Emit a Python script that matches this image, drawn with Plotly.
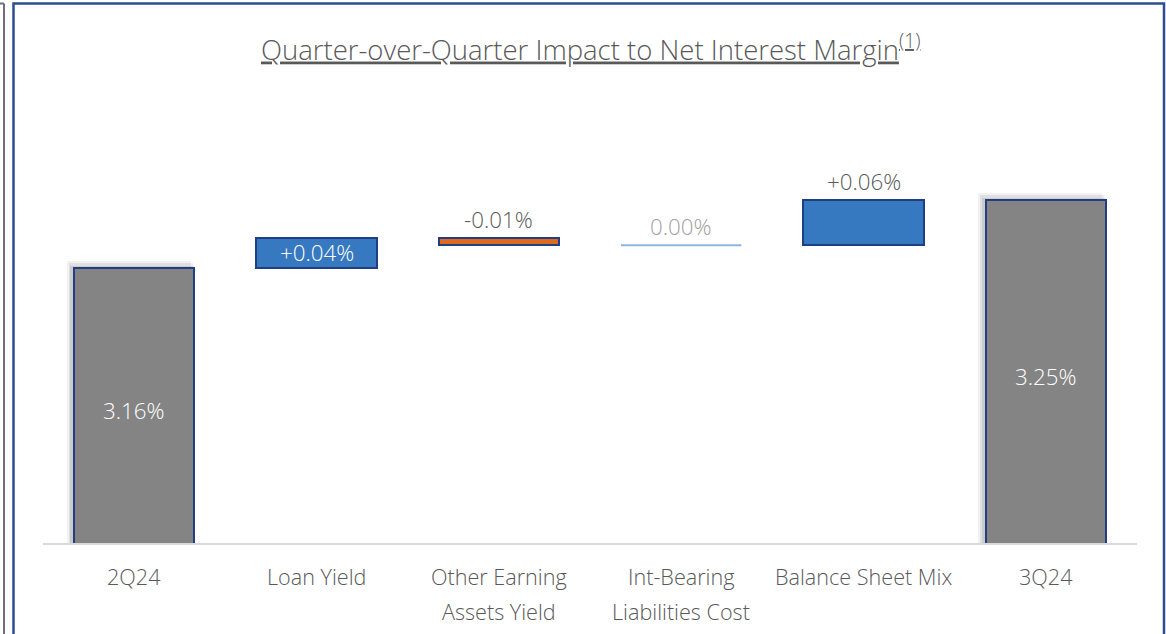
import plotly.graph_objects as go

# ---- data ----
categories = ["2Q24", "Loan Yield", "Other Earning\nAssets Yield",
              "Int-Bearing\nLiabilities Cost", "Balance Sheet Mix", "3Q24"]
start_value = 3.16
changes = [0.04, -0.01, 0.00, 0.06]
end_value = 3.25
value_labels = ["3.16%", "+0.04%", "-0.01%", "0.00%", "+0.06%", "3.25%"]
title_text = "Quarter-over-Quarter Impact to Net Interest Margin"

# ---- styling ----
FONT = "Open Sans"
TXT = "#595959"
NAVY = "#203E84"
GRAY = "#848484"
BLUE = "#3679C0"
ORANGE = "#DC6A1F"
ZERO_LINE = "#8DB4E2"
BAR_W = 0.66
Y_MIN, Y_MAX = 2.796, 3.382
CAT_SIZE = 21.6
VAL_SIZE = 22.3
WEIGHT = 300

n = len(categories)
xs = list(range(n))

# waterfall geometry from data
bases, heights, kinds = [0.0], [start_value], ["total"]
level = start_value
for c in changes:
    bases.append(level)
    heights.append(c)
    kinds.append("up" if c > 0 else ("down" if c < 0 else "zero"))
    level += c
bases.append(0.0)
heights.append(end_value)
kinds.append("total")

fig = go.Figure()

# soft shadow behind total bars
tot_idx = [i for i, k in enumerate(kinds) if k == "total"]
for dx, extra, alpha in [(-0.03, 0.009, 0.05), (-0.02, 0.006, 0.07), (-0.01, 0.003, 0.09)]:
    fig.add_trace(go.Bar(
        x=[xs[i] + dx for i in tot_idx],
        y=[heights[i] + extra for i in tot_idx],
        base=[bases[i] for i in tot_idx],
        width=BAR_W + 0.02,
        marker=dict(color=f"rgba(0,0,0,{alpha})", line=dict(width=0)),
        hoverinfo="skip", showlegend=False))

colors = {"total": GRAY, "up": BLUE, "down": ORANGE}
bar_idx = [i for i, k in enumerate(kinds) if k != "zero"]
fig.add_trace(go.Bar(
    x=[xs[i] for i in bar_idx],
    y=[heights[i] for i in bar_idx],
    base=[bases[i] for i in bar_idx],
    width=BAR_W,
    marker=dict(color=[colors[kinds[i]] for i in bar_idx],
                line=dict(color=NAVY, width=2)),
    showlegend=False, hoverinfo="skip"))

# zero-change bars drawn as a thin line
for i, k in enumerate(kinds):
    if k == "zero":
        fig.add_trace(go.Scatter(
            x=[xs[i] - BAR_W / 2, xs[i] + BAR_W / 2],
            y=[bases[i], bases[i]], mode="lines",
            line=dict(color=ZERO_LINE, width=2),
            showlegend=False, hoverinfo="skip"))

# value labels
for i, k in enumerate(kinds):
    top = max(bases[i], bases[i] + heights[i])
    bot = min(bases[i], bases[i] + heights[i])
    if k == "total":
        y = (max(bot, Y_MIN) + top) / 2
        fig.add_annotation(x=xs[i], y=y, text=value_labels[i], showarrow=False,
                           yshift=-5, font=dict(family=FONT, size=VAL_SIZE,
                                                color="white", weight=WEIGHT))
    elif k == "up" and heights[i] < 0.05:
        fig.add_annotation(x=xs[i], y=(top + bot) / 2, text=value_labels[i],
                           showarrow=False,
                           font=dict(family=FONT, size=VAL_SIZE, color="white",
                                     weight=WEIGHT))
    else:
        col = "#A0A0A0" if k == "zero" else TXT
        fig.add_annotation(x=xs[i], y=top, text=value_labels[i], showarrow=False,
                           yanchor="bottom", yshift=1,
                           font=dict(family=FONT, size=VAL_SIZE, color=col,
                                     weight=WEIGHT))

# category labels (two rows)
PLOT_H = 443
for i, cat in enumerate(categories):
    lines = cat.split("\n")
    for j, ln in enumerate(lines):
        ypx = 576 + 35 * j
        fig.add_annotation(x=xs[i], xref="x", y=(543 - ypx) / PLOT_H, yref="paper",
                           text=ln, showarrow=False, yanchor="middle",
                           font=dict(family=FONT, size=CAT_SIZE, color=TXT,
                                     weight=WEIGHT))

# title
fig.add_annotation(x=0.5, xref="paper", y=(543 - 48) / PLOT_H, yref="paper",
                   text=f"<u>{title_text}<sup>(1)</sup></u>", showarrow=False,
                   yanchor="middle",
                   font=dict(family=FONT, size=27.5, color=TXT, weight=WEIGHT))

# frame lines
def px_x(p):
    return (p - 43) / 1094

def px_y(p):
    return (543 - p) / PLOT_H

fig.add_shape(type="rect", xref="paper", yref="paper",
              x0=px_x(13.5), x1=px_x(1164), y0=px_y(700), y1=px_y(3.5),
              line=dict(color="#2F4D8E", width=2.5), fillcolor="rgba(0,0,0,0)")
fig.add_shape(type="line", xref="paper", yref="paper",
              x0=px_x(4), x1=px_x(4), y0=px_y(700), y1=px_y(3.5),
              line=dict(color="#6E6E80", width=2))
fig.add_shape(type="line", xref="paper", yref="paper",
              x0=px_x(-5), x1=px_x(4), y0=px_y(3.5), y1=px_y(3.5),
              line=dict(color="#6E6E80", width=2))

fig.update_layout(
    width=1166, height=634,
    margin=dict(l=43, r=29, t=100, b=91),
    paper_bgcolor="white", plot_bgcolor="white",
    barmode="overlay", bargap=0,
    xaxis=dict(range=[-0.5, n - 0.5], showticklabels=False, ticks="",
               showgrid=False, zeroline=False, showline=True,
               linecolor="#D9D9D9", linewidth=2, fixedrange=True),
    yaxis=dict(range=[Y_MIN, Y_MAX], visible=False, showgrid=False,
               zeroline=False, fixedrange=True),
)

fig.write_html("out.html", config={"displayModeBar": False},
               post_script="document.body.style.margin='0';document.body.style.overflow='hidden';")
